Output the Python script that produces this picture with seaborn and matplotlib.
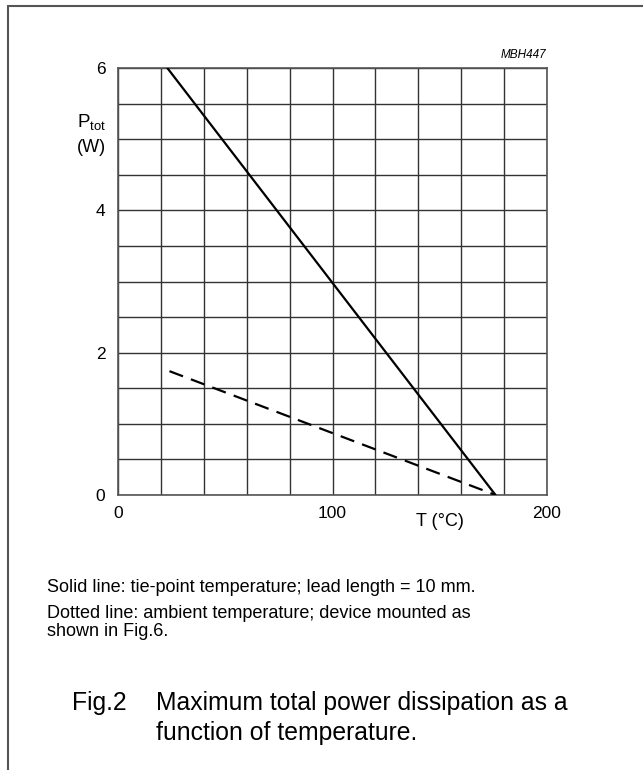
import numpy as np
import pandas as pd
import matplotlib
matplotlib.use("Agg")
import matplotlib.pyplot as plt
import seaborn as sns
from matplotlib.lines import Line2D

# data
solid_T = [23, 176]       # tie-point temperature (degC)
solid_P = [6.0, 0.0]      # W
dotted_T = [24, 176]      # ambient temperature (degC)
dotted_P = [1.74, 0.0]    # W

x_ticks = [0, 100, 200]
y_ticks = [0, 2, 4, 6]

sns.set_style("white")
plt.rcParams['font.family'] = ['Liberation Sans', 'DejaVu Sans']
plt.rcParams['mathtext.fontset'] = 'custom'
plt.rcParams['mathtext.rm'] = 'Liberation Sans'
plt.rcParams['text.color'] = 'black'

fig = plt.figure(figsize=(6.43, 7.70), dpi=100)
ax = fig.add_axes([118 / 643, 1 - 495 / 770, 429 / 643, 427 / 770])

df_solid = pd.DataFrame({"T": solid_T, "P": solid_P})
df_dot = pd.DataFrame({"T": dotted_T, "P": dotted_P})
sns.lineplot(data=df_solid, x="T", y="P", ax=ax, color="black", lw=1.6, zorder=5)
sns.lineplot(data=df_dot, x="T", y="P", ax=ax, color="black", lw=1.6,
             linestyle=(0, (6.5, 3.8)), zorder=5)

ax.set_xlim(0, 200)
ax.set_ylim(0, 6)
ax.set_xticks(x_ticks)
ax.set_yticks(y_ticks)
ax.set_xticks(np.arange(0, 201, 20), minor=True)
ax.set_yticks(np.arange(0, 6.01, 0.5), minor=True)
ax.grid(which="both", color="#333333", lw=1.0)
ax.tick_params(which="both", length=0, labelsize=12.5, colors="black")
ax.tick_params(axis="x", pad=8)
ax.tick_params(axis="y", pad=9)
for s in ax.spines.values():
    s.set_color("#555555")
    s.set_linewidth(1.2)
ax.set_xlabel("")
ax.set_ylabel("")

# axis labels placed like the datasheet
fig.text(106 / 643, 1 - 122 / 770, r"$\mathrm{P_{tot}}$", ha="right", va="center", fontsize=13.5)
fig.text(106 / 643, 1 - 148 / 770, "(W)", ha="right", va="center", fontsize=13)
fig.text(440 / 643, 1 - 522 / 770, "T (\u00b0C)", ha="center", va="center", fontsize=13)
fig.text(546 / 643, 1 - 55 / 770, "MBH447", ha="right", va="center", fontsize=8.5, style="italic")

# notes and caption
fig.text(47 / 643, 1 - 587 / 770, "Solid line: tie-point temperature; lead length = 10 mm.",
         ha="left", va="center", fontsize=13)
fig.text(47 / 643, 1 - 613 / 770, "Dotted line: ambient temperature; device mounted as",
         ha="left", va="center", fontsize=13)
fig.text(47 / 643, 1 - 632 / 770, "shown in Fig.6.", ha="left", va="center", fontsize=13)
fig.text(72 / 643, 1 - 703 / 770, "Fig.2", ha="left", va="center", fontsize=17.8)
fig.text(156 / 643, 1 - 703 / 770, "Maximum total power dissipation as a",
         ha="left", va="center", fontsize=17.8)
fig.text(156 / 643, 1 - 733 / 770, "function of temperature.",
         ha="left", va="center", fontsize=17.8)

# page frame (left and top edges)
fig.add_artist(Line2D([8 / 643, 8 / 643], [0, 1 - 6 / 770], transform=fig.transFigure,
                      color="#555555", lw=1.5))
fig.add_artist(Line2D([8 / 643, 1], [1 - 6 / 770, 1 - 6 / 770], transform=fig.transFigure,
                      color="#555555", lw=1.5))

fig.savefig("out.png", dpi=100)
